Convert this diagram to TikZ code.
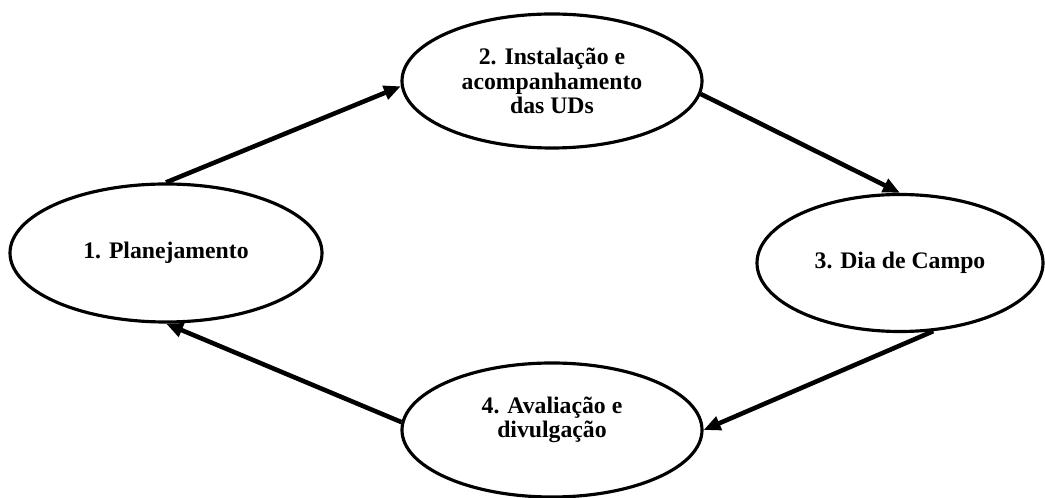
\documentclass[tikz,border=0pt]{standalone}
\usepackage{fontspec}
\setmainfont{Liberation Serif}
\usetikzlibrary{shapes.geometric,arrows.meta}
\begin{document}
\begin{tikzpicture}[
  stage/.style={ellipse, draw, line width=1.8pt, inner sep=0pt,
    minimum width=6cm, minimum height=2.68cm, align=center,
    font=\fontsize{13.5}{14}\selectfont\bfseries},
  flow/.style={line width=2.6pt, -{Triangle[length=0.34cm,width=0.28cm]}}]
  \useasboundingbox (0,0) rectangle (20.9,9.96);
  % Stage 1
  \node[stage, minimum width=6.24cm, minimum height=2.76cm] (plan) at (3.32,4.9) {1. Planejamento};
  % Stage 2
  \node[stage] (inst) at (11.04,8.34) {2. Instalação e\\acompanhamento\\das UDs};
  % Stage 3
  \node[stage, minimum width=5.72cm, minimum height=2.74cm] (campo) at (18.0,4.7) {3. Dia de Campo};
  % Stage 4
  \node[stage] (aval) at (11.04,1.36) {};
  \node[align=center, font=\fontsize{13.5}{14}\selectfont\bfseries] (avaltxt) at (11.04,1.56) {4. Avaliação e\\divulgação};
  % Cycle
  \draw[flow] (plan.north) -- (inst.182);
  \draw[flow] (inst.-5) -- (campo.north);
  \draw[flow] (campo.-64) -- (aval.east);
  \draw[flow] (aval.177) -- (plan.south);
\end{tikzpicture}
\end{document}
